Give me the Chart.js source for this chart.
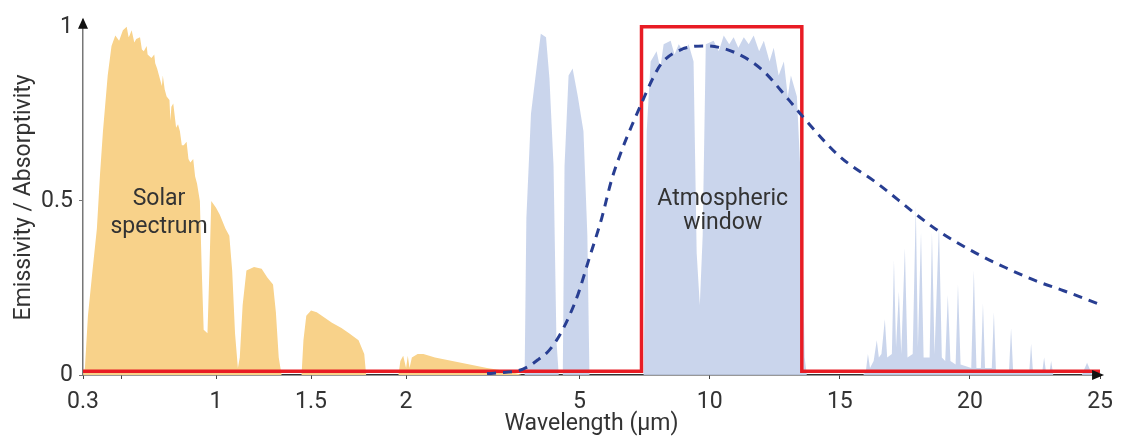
<!DOCTYPE html>
<html>
<head>
<meta charset="utf-8">
<script src="https://cdn.jsdelivr.net/npm/chart.js@4.4.1/dist/chart.umd.min.js"></script>
<style>
  html, body { margin: 0; padding: 0; background: #fff; }
  #wrap { width: 1122px; height: 439px; }
</style>
</head>
<body>
<div id="wrap"><canvas id="spectrumChart" width="1122" height="439"></canvas></div>
<script>
// Piecewise wavelength axis: 0.3-2, 2-5 and 5-25 µm each get their own linear stretch
const xBreaks = [0.3, 2, 5, 25];
const xBreakAxis = [0, 1.7, 2.613, 5.352];

const xTickValues = [0.3, 0.5, 1, 1.5, 2, 5, 10, 15, 20, 25];
const xTickLabels = ['0.3', '', '1', '1.5', '2', '5', '10', '15', '20', '25'];
const yTickValues = [0, 0.5, 1];
const yTickLabels = ['0', '0.5', '1'];

// [wavelength µm, value]
const solarSpectrum = [
  [0.30, 0], [0.31, 0.02], [0.326, 0.17], [0.35, 0.30], [0.373, 0.42], [0.39, 0.58],
  [0.405, 0.70], [0.43, 0.86], [0.45, 0.945], [0.47, 0.975], [0.49, 0.96], [0.51, 0.99],
  [0.53, 1.0], [0.54, 0.97], [0.545, 0.975], [0.556, 0.99], [0.57, 0.955], [0.58, 0.965],
  [0.60, 0.97], [0.61, 0.935], [0.62, 0.93], [0.635, 0.945], [0.64, 0.92], [0.66, 0.91],
  [0.675, 0.92], [0.68, 0.895], [0.69, 0.88], [0.70, 0.86], [0.715, 0.83], [0.72, 0.86],
  [0.73, 0.82], [0.74, 0.80], [0.755, 0.79], [0.76, 0.73], [0.765, 0.77], [0.775, 0.78],
  [0.79, 0.71], [0.80, 0.72], [0.81, 0.70], [0.82, 0.66], [0.83, 0.66], [0.845, 0.67],
  [0.855, 0.62], [0.865, 0.61], [0.88, 0.62], [0.89, 0.57], [0.90, 0.55], [0.915, 0.50],
  [0.925, 0.30], [0.935, 0.13], [0.955, 0.12], [0.965, 0.30], [0.975, 0.50], [1.0, 0.48],
  [1.02, 0.46], [1.05, 0.42], [1.07, 0.40], [1.085, 0.30], [1.10, 0.12], [1.115, 0.02],
  [1.125, 0.05], [1.14, 0.20], [1.16, 0.30], [1.20, 0.31], [1.24, 0.305], [1.27, 0.28],
  [1.30, 0.26], [1.315, 0.18], [1.33, 0.05], [1.345, 0], [1.45, 0], [1.46, 0.10],
  [1.475, 0.17], [1.50, 0.185], [1.53, 0.18], [1.57, 0.165], [1.61, 0.15], [1.66, 0.135],
  [1.70, 0.12], [1.75, 0.10], [1.78, 0.06], [1.79, 0], [1.96, 0], [1.97, 0.04],
  [1.985, 0.055], [2.0, 0.02], [2.03, 0.055], [2.06, 0.02], [2.10, 0.05], [2.2, 0.06],
  [2.3, 0.06], [2.5, 0.05], [2.8, 0.04], [3.1, 0.03], [3.4, 0.02], [3.7, 0.012],
  [3.9, 0.005], [4.0, 0]
];

const atmosphericTransmission = [
  [3.9, 0], [4.05, 0], [4.08, 0.45], [4.16, 0.75], [4.27, 0.90], [4.33, 0.98], [4.42, 0.97],
  [4.48, 0.85], [4.55, 0.60], [4.60, 0.10], [4.64, 0], [4.71, 0], [4.74, 0.60], [4.81, 0.86],
  [4.88, 0.88], [4.97, 0.80], [5.15, 0.70], [5.30, 0.40], [5.38, 0],
  [7.46, 0], [7.58, 0.70], [7.73, 0.90], [7.96, 0.93], [8.1, 0.88], [8.23, 0.95], [8.5, 0.96],
  [8.65, 0.92], [8.81, 0.95], [9.0, 0.93], [9.19, 0.95], [9.38, 0.90], [9.5, 0.35], [9.62, 0.20],
  [9.73, 0.40], [9.85, 0.95], [10.15, 0.96], [10.35, 0.93], [10.54, 0.975], [10.75, 0.95],
  [10.92, 0.97], [11.1, 0.94], [11.31, 0.97], [11.5, 0.95], [11.69, 0.975], [11.9, 0.93],
  [12.08, 0.96], [12.3, 0.90], [12.46, 0.94], [12.65, 0.86], [12.85, 0.90], [13.0, 0.80],
  [13.12, 0.86], [13.35, 0.80], [13.54, 0.50], [13.65, 0.05], [13.73, 0],
  [15.9, 0], [16.0, 0.01], [16.08, 0.06], [16.16, 0.02], [16.3, 0.04], [16.42, 0.10],
  [16.5, 0.05], [16.6, 0.06], [16.73, 0.16], [16.82, 0.05], [17.0, 0.06], [17.08, 0.33],
  [17.16, 0.08], [17.27, 0.24], [17.36, 0.06], [17.5, 0.365], [17.6, 0.05], [17.8, 0.06],
  [17.92, 0.485], [18.0, 0.08], [18.12, 0.41], [18.22, 0.05], [18.45, 0.05], [18.54, 0.41],
  [18.64, 0.06], [18.81, 0.43], [18.92, 0.05], [19.05, 0.04], [19.15, 0.23], [19.25, 0.04],
  [19.45, 0.03], [19.54, 0.26], [19.64, 0.03], [20.05, 0.02], [20.15, 0.30], [20.25, 0.02],
  [20.42, 0.02], [20.5, 0.205], [20.58, 0.02], [20.84, 0.02], [20.92, 0.18], [21.0, 0.01],
  [21.5, 0.01], [21.58, 0.134], [21.66, 0.01], [22.28, 0.01], [22.35, 0.09], [22.42, 0.01],
  [22.78, 0.01], [22.85, 0.05], [22.92, 0.01], [23.06, 0.01], [23.12, 0.04], [23.2, 0],
  [24.3, 0], [24.5, 0.035], [24.7, 0]
];

const emitterEmissivity = [
  [0.3, 0.011], [7.38, 0.011], [7.38, 1.0], [13.54, 1.0], [13.54, 0.011], [25, 0.011]
];

const blackbodyCurve = [
  [3.4, 0.004], [3.6, 0.006], [3.95, 0.013], [4.12, 0.025], [4.29, 0.045], [4.47, 0.07],
  [4.64, 0.11], [4.81, 0.165], [4.98, 0.235], [5.35, 0.33], [5.85, 0.45], [6.23, 0.56],
  [6.62, 0.645], [7.0, 0.715], [7.38, 0.78], [7.77, 0.845], [8.15, 0.895], [8.92, 0.935],
  [9.85, 0.945], [11.0, 0.925], [12.0, 0.877], [13.04, 0.79], [13.54, 0.745], [14.96, 0.63],
  [16.5, 0.547], [17.92, 0.462], [18.8, 0.413], [20.23, 0.35], [21.38, 0.308], [22.54, 0.27],
  [23.6, 0.242], [24.9, 0.205]
];

function toAxis(w) {
  for (let i = 1; i < xBreaks.length; i++) {
    if (w <= xBreaks[i] || i === xBreaks.length - 1) {
      const t = (w - xBreaks[i - 1]) / (xBreaks[i] - xBreaks[i - 1]);
      return xBreakAxis[i - 1] + t * (xBreakAxis[i] - xBreakAxis[i - 1]);
    }
  }
  return 0;
}

const toPoints = (pairs) => pairs.map(([w, v]) => ({ x: toAxis(w), y: v }));

const fontFamily = 'Roboto, "DejaVu Sans", sans-serif';
const textColor = '#333333';

const labelPlugin = {
  id: 'spectrumLabels',
  afterDatasetsDraw(chart) {
    const { ctx, scales: { x, y } } = chart;
    ctx.save();
    ctx.font = `23px ${fontFamily}`;
    ctx.fillStyle = textColor;
    ctx.textAlign = 'center';
    ctx.textBaseline = 'middle';
    ctx.fillText('Solar', x.getPixelForValue(toAxis(0.7)), y.getPixelForValue(0.505));
    ctx.fillText('spectrum', x.getPixelForValue(toAxis(0.7)), y.getPixelForValue(0.425));
    ctx.fillText('Atmospheric', x.getPixelForValue(toAxis(10.5)), y.getPixelForValue(0.505));
    ctx.fillText('window', x.getPixelForValue(toAxis(10.5)), y.getPixelForValue(0.435));
    ctx.restore();
  },
  afterDraw(chart) {
    const { ctx, chartArea } = chart;
    ctx.save();
    ctx.fillStyle = '#111';
    // arrow on top of y axis
    ctx.beginPath();
    ctx.moveTo(chartArea.left, chartArea.top - 2);
    ctx.lineTo(chartArea.left - 5, chartArea.top + 9);
    ctx.lineTo(chartArea.left + 5, chartArea.top + 9);
    ctx.closePath();
    ctx.fill();
    // arrow at right end of x axis
    ctx.beginPath();
    ctx.moveTo(chartArea.right + 4, chartArea.bottom);
    ctx.lineTo(chartArea.right - 8, chartArea.bottom - 5);
    ctx.lineTo(chartArea.right - 8, chartArea.bottom + 5);
    ctx.closePath();
    ctx.fill();
    ctx.restore();
  }
};

const ctx = document.getElementById('spectrumChart').getContext('2d');
new Chart(ctx, {
  type: 'line',
  data: {
    datasets: [
      {
        label: 'Solar spectrum',
        data: toPoints(solarSpectrum),
        backgroundColor: 'rgba(248, 210, 138, 1)',
        borderWidth: 0,
        fill: 'origin',
        pointRadius: 0,
        order: 4
      },
      {
        label: 'Atmospheric window',
        data: toPoints(atmosphericTransmission),
        backgroundColor: 'rgba(196, 208, 234, 0.9)',
        borderWidth: 0,
        fill: 'origin',
        pointRadius: 0,
        order: 3
      },
      {
        label: 'Emissivity',
        data: toPoints(emitterEmissivity),
        borderColor: 'rgb(232, 28, 36)',
        borderWidth: 3.5,
        fill: false,
        pointRadius: 0,
        order: 2
      },
      {
        label: 'Blackbody',
        data: toPoints(blackbodyCurve),
        borderColor: 'rgb(40, 62, 146)',
        borderWidth: 3,
        borderDash: [9, 7],
        fill: false,
        cubicInterpolationMode: 'monotone',
        pointRadius: 0,
        order: 1
      }
    ]
  },
  options: {
    responsive: false,
    animation: false,
    devicePixelRatio: 1,
    layout: { padding: { top: 17, right: 19, left: 0, bottom: 0 } },
    plugins: {
      legend: { display: false },
      tooltip: { enabled: false }
    },
    scales: {
      x: {
        type: 'linear',
        min: 0,
        max: xBreakAxis[xBreakAxis.length - 1],
        afterBuildTicks: (scale) => {
          scale.ticks = xTickValues.map((v) => ({ value: toAxis(v) }));
        },
        afterFit: (scale) => { scale.height = 64; },
        ticks: {
          autoSkip: false,
          maxRotation: 0,
          padding: 9,
          color: textColor,
          font: { family: fontFamily, size: 23 },
          callback: (value, index) => xTickLabels[index]
        },
        grid: { display: true, drawOnChartArea: false, drawTicks: true, tickLength: 4, color: '#444' },
        border: { display: true, color: '#333', width: 1.5 },
        title: {
          display: true,
          text: 'Wavelength (µm)',
          color: textColor,
          font: { family: fontFamily, size: 23 },
          padding: { top: 0, bottom: 1 }
        }
      },
      y: {
        min: 0,
        max: 1.02,
        afterBuildTicks: (scale) => {
          scale.ticks = yTickValues.map((v) => ({ value: v }));
        },
        afterFit: (scale) => { scale.width = 83; },
        ticks: {
          padding: 6,
          color: textColor,
          font: { family: fontFamily, size: 23 },
          callback: (value, index) => yTickLabels[index]
        },
        grid: { display: true, drawOnChartArea: false, drawTicks: true, tickLength: 4, color: '#777' },
        border: { display: true, color: '#777', width: 1.5 },
        title: {
          display: true,
          text: 'Emissivity / Absorptivity',
          color: textColor,
          font: { family: fontFamily, size: 23 },
          padding: { top: 10, bottom: 0 }
        }
      }
    }
  },
  plugins: [labelPlugin]
});
</script>
</body>
</html>
